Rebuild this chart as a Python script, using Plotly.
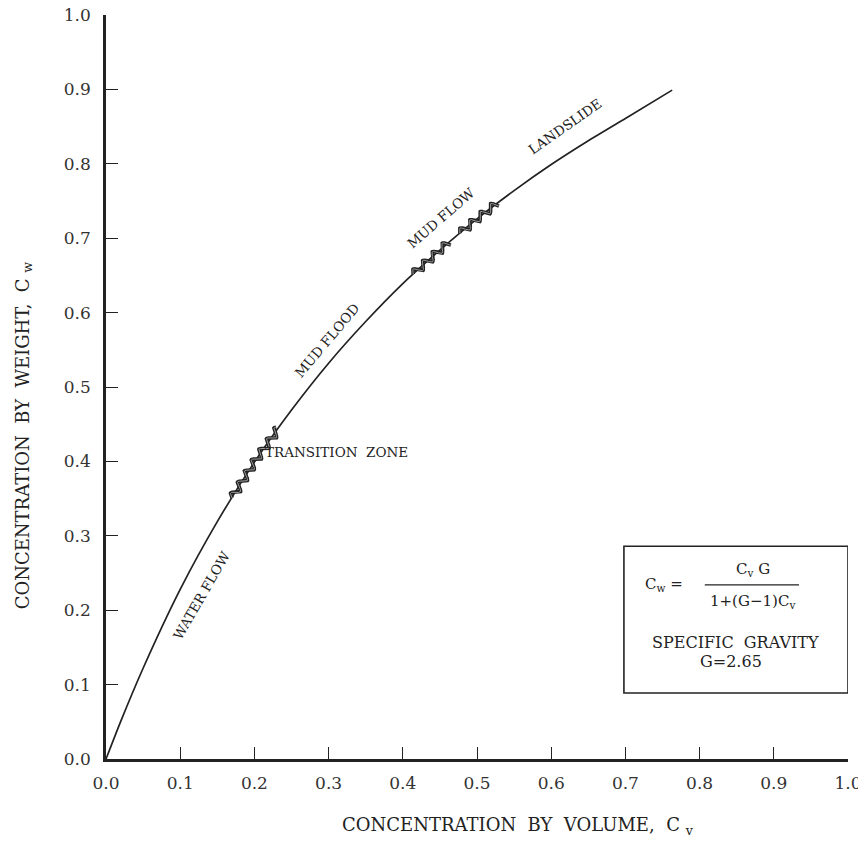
import numpy as np
import plotly.graph_objects as go

# ---- data ----
cv_curve = [0.0, 0.02, 0.05, 0.10, 0.15, 0.20, 0.25, 0.30, 0.35, 0.40, 0.45, 0.50, 0.55, 0.60, 0.65, 0.70, 0.763]
cw_curve = [0.0, 0.051, 0.122, 0.228, 0.319, 0.399, 0.469, 0.532, 0.588, 0.639, 0.684, 0.726, 0.764, 0.799, 0.831, 0.861, 0.899]

# wavy zone boundaries (Cv)
zone_start = [0.170, 0.414, 0.477]
zone_end = [0.232, 0.462, 0.527]

tick_vals = [0.0, 0.1, 0.2, 0.3, 0.4, 0.5, 0.6, 0.7, 0.8, 0.9, 1.0]
tick_text = ["0.0", "0.1", "0.2", "0.3", "0.4", "0.5", "0.6", "0.7", "0.8", "0.9", "1.0"]

zone_labels = ["WATER FLOW", "TRANSITION\u00a0\u00a0ZONE", "MUD FLOOD", "MUD FLOW", "LANDSLIDE"]
zone_label_x = [0.129, 0.211, 0.298, 0.451, 0.619]
zone_label_y = [0.220, 0.413, 0.563, 0.727, 0.851]
zone_label_angle = [-60, 0, -50, -41, -35]

# ---- layout constants (page body has an 8px margin) ----
W, H = 858, 827
ML, MT = 98, 7
PX, PY = 742, 744
MR = W - ML - PX
MB = H - MT - PY
FONT = "DejaVu Serif"
INK = "#222222"

fig = go.Figure()

fig.add_trace(go.Scatter(x=cv_curve, y=cw_curve, mode="lines",
                         line=dict(color=INK, width=1.7, shape="spline", smoothing=0.6),
                         hoverinfo="skip", showlegend=False))

# wavy decoration along the curve in each zone
for a, b in zip(zone_start, zone_end):
    s = np.linspace(a, b, 300)
    c = np.interp(s, cv_curve, cw_curve)
    X, Y = s * PX, c * PY
    dX, dY = np.gradient(X), np.gradient(Y)
    n = np.hypot(dX, dY)
    tx, ty = dX / n, dY / n
    arc = np.concatenate([[0], np.cumsum(np.hypot(np.diff(X), np.diff(Y)))])
    off = 3.8 * np.sin(2 * np.pi * arc / 13.0)
    Xw, Yw = X - ty * off, Y + tx * off
    fig.add_trace(go.Scatter(x=Xw / PX, y=Yw / PY, mode="lines",
                             line=dict(color=INK, width=3.6),
                             hoverinfo="skip", showlegend=False))
    fig.add_trace(go.Scatter(x=Xw / PX, y=Yw / PY, mode="lines",
                             line=dict(color="#9a9a9a", width=1.0),
                             hoverinfo="skip", showlegend=False))

ann = []
for t, x, y, ang in zip(zone_labels, zone_label_x, zone_label_y, zone_label_angle):
    ann.append(dict(x=x, y=y, xref="x", yref="y", text=t, showarrow=False,
                    textangle=ang, xanchor="left" if ang == 0 else "center",
                    yanchor="middle", font=dict(family=FONT, size=13.5, color=INK)))

# formula box
box_x0, box_x1, box_y0, box_y1 = 0.698, 1.0, 0.0887, 0.286
shapes = [
    dict(type="rect", xref="x", yref="y", x0=box_x0, x1=box_x1, y0=box_y0, y1=box_y1,
         line=dict(color=INK, width=1.6), fillcolor="rgba(0,0,0,0)"),
    dict(type="line", xref="x", yref="y", x0=0.807, x1=0.934, y0=0.234, y1=0.234,
         line=dict(color=INK, width=1.2)),
]
box_font = dict(family=FONT, size=15, color=INK)
ann += [
    dict(x=0.752, y=0.234, xref="x", yref="y", text="C<sub>w</sub> =", showarrow=False,
         xanchor="center", yanchor="middle", font=box_font),
    dict(x=0.872, y=0.255, xref="x", yref="y", text="C<sub>v</sub> G", showarrow=False,
         xanchor="center", yanchor="middle", font=box_font),
    dict(x=0.871, y=0.212, xref="x", yref="y", text="1+(G\u22121)C<sub>v</sub>", showarrow=False,
         xanchor="center", yanchor="middle", font=box_font),
    dict(x=0.849, y=0.157, xref="x", yref="y", text="SPECIFIC\u00a0\u00a0GRAVITY", showarrow=False,
         xanchor="center", yanchor="middle", font=dict(family=FONT, size=16, color=INK)),
    dict(x=0.842, y=0.131, xref="x", yref="y", text="G=2.65", showarrow=False,
         xanchor="center", yanchor="middle", font=dict(family=FONT, size=16, color=INK)),
]

# axis titles
title_font = dict(family=FONT, size=18, color=INK)
ann += [
    dict(x=0.555, y=0, xref="paper", yref="paper", yshift=-67,
         text="CONCENTRATION\u00a0\u00a0BY\u00a0\u00a0VOLUME,\u00a0\u00a0C\u00a0<sub>v</sub>",
         showarrow=False, xanchor="center", yanchor="middle", font=title_font),
    dict(x=0, y=0.435, xref="paper", yref="paper", xshift=-82, textangle=-90,
         text="CONCENTRATION\u00a0\u00a0BY\u00a0\u00a0WEIGHT,\u00a0\u00a0C\u00a0<sub>w</sub>",
         showarrow=False, xanchor="center", yanchor="middle", font=title_font),
]

axis_common = dict(range=[0, 1], tickvals=tick_vals, ticktext=tick_text,
                   ticks="inside", ticklen=12, tickwidth=1.4, tickcolor=INK,
                   showline=True, linewidth=2.6, linecolor=INK, mirror=False,
                   showgrid=False, zeroline=False, fixedrange=True,
                   ticklabeloverflow="allow",
                   tickfont=dict(family=FONT, size=17, color="#333333"))

fig.update_layout(
    width=W, height=H,
    margin=dict(l=ML, r=MR, t=MT, b=MB, autoexpand=False),
    paper_bgcolor="white", plot_bgcolor="white",
    xaxis=dict(axis_common, ticklabelstandoff=7),
    yaxis=dict(axis_common, ticklabelstandoff=9),
    shapes=shapes, annotations=ann, showlegend=False,
)

fig.write_html("out.html")
